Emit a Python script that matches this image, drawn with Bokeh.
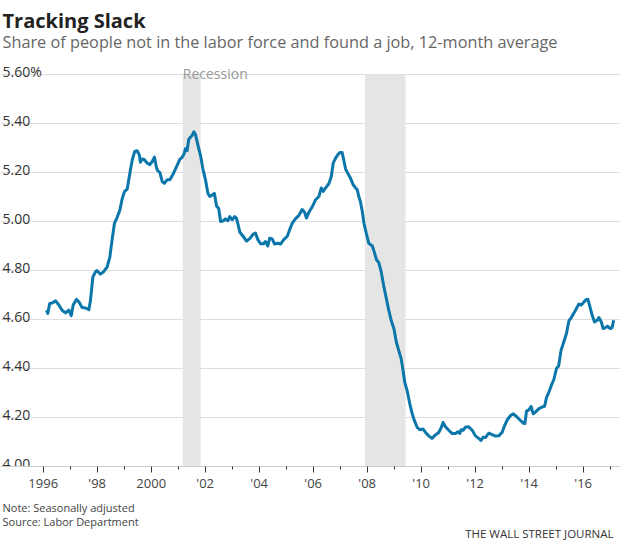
from bokeh.plotting import figure
from bokeh.layouts import column
from bokeh.models import Range1d, FixedTicker, Label
from bokeh.embed import file_html
from bokeh.resources import INLINE
from bokeh.core.properties import value

# ---------------- data ----------------
years = [
    1996.12, 1996.17, 1996.24, 1996.33, 1996.46, 1996.58, 1996.70, 1996.83, 1996.95,
    1997.04, 1997.11, 1997.23, 1997.32, 1997.44, 1997.57, 1997.69, 1997.75, 1997.84, 1997.94, 1997.99,
    1998.12, 1998.24, 1998.37, 1998.47, 1998.55, 1998.64, 1998.74, 1998.84, 1998.93,
    1999.01, 1999.11, 1999.21, 1999.30, 1999.39, 1999.48, 1999.56, 1999.60, 1999.67, 1999.75, 1999.85, 1999.95,
    2000.04, 2000.12, 2000.20, 2000.24, 2000.32, 2000.41, 2000.49, 2000.59, 2000.69, 2000.81, 2000.94,
    2001.06, 2001.15, 2001.21, 2001.27, 2001.33, 2001.39, 2001.46, 2001.52, 2001.58, 2001.64, 2001.73, 2001.83, 2001.91,
    2002.01, 2002.10, 2002.17, 2002.26, 2002.34, 2002.42, 2002.50, 2002.57, 2002.67, 2002.75, 2002.84, 2002.91,
    2003.00, 2003.09, 2003.16, 2003.22, 2003.28, 2003.41, 2003.53, 2003.66, 2003.78, 2003.86, 2003.95,
    2004.05, 2004.16, 2004.23, 2004.32, 2004.39, 2004.48, 2004.57, 2004.69, 2004.79, 2004.91,
    2005.04, 2005.13, 2005.22, 2005.34, 2005.47, 2005.59, 2005.68, 2005.75, 2005.84, 2005.96,
    2006.09, 2006.21, 2006.30, 2006.37, 2006.46, 2006.58, 2006.67, 2006.74, 2006.83, 2006.91, 2006.99,
    2007.07, 2007.13, 2007.20, 2007.28, 2007.38, 2007.48, 2007.57, 2007.63, 2007.69, 2007.75, 2007.82, 2007.88, 2007.98,
    2008.06, 2008.19, 2008.27, 2008.34, 2008.43, 2008.52, 2008.61, 2008.71, 2008.80, 2008.89, 2008.99,
    2009.08, 2009.17, 2009.26, 2009.33, 2009.39, 2009.48, 2009.58, 2009.67, 2009.75, 2009.85, 2009.95,
    2010.07, 2010.16, 2010.27, 2010.40, 2010.52, 2010.65, 2010.74, 2010.81, 2010.90,
    2011.02, 2011.14, 2011.27, 2011.36, 2011.43, 2011.48, 2011.56, 2011.63, 2011.76, 2011.89,
    2012.01, 2012.13, 2012.21, 2012.30, 2012.38, 2012.50, 2012.63, 2012.75, 2012.87,
    2013.00, 2013.09, 2013.19, 2013.31, 2013.41, 2013.53, 2013.65, 2013.78, 2013.84, 2013.90, 2013.99,
    2014.07, 2014.15, 2014.23, 2014.36, 2014.48, 2014.57, 2014.64, 2014.73, 2014.82, 2014.91,
    2015.01, 2015.09, 2015.18, 2015.28, 2015.38, 2015.47, 2015.56, 2015.65, 2015.75, 2015.84, 2015.93,
    2016.03, 2016.12, 2016.17, 2016.25, 2016.33, 2016.42, 2016.52, 2016.58, 2016.67, 2016.74, 2016.83, 2016.90,
    2017.00, 2017.07, 2017.13,
]
share_pct = [
    4.638, 4.625, 4.665, 4.667, 4.676, 4.659, 4.638, 4.627, 4.638,
    4.616, 4.659, 4.682, 4.672, 4.649, 4.647, 4.640, 4.677, 4.774, 4.795, 4.800,
    4.785, 4.795, 4.815, 4.856, 4.924, 4.993, 5.017, 5.047, 5.095,
    5.122, 5.132, 5.197, 5.252, 5.286, 5.289, 5.272, 5.242, 5.255, 5.252, 5.238, 5.232,
    5.245, 5.263, 5.218, 5.208, 5.200, 5.163, 5.156, 5.170, 5.170, 5.193, 5.224,
    5.254, 5.263, 5.274, 5.297, 5.289, 5.335, 5.345, 5.352, 5.366, 5.355, 5.312, 5.268, 5.217,
    5.170, 5.115, 5.102, 5.108, 5.115, 5.063, 5.053, 5.000, 5.003, 5.011, 5.003, 5.020,
    5.007, 5.020, 5.013, 4.986, 4.957, 4.939, 4.920, 4.931, 4.949, 4.953, 4.926,
    4.909, 4.909, 4.918, 4.900, 4.932, 4.929, 4.908, 4.911, 4.908, 4.926,
    4.940, 4.967, 4.992, 5.011, 5.025, 5.049, 5.038, 5.014, 5.038, 5.059,
    5.089, 5.102, 5.137, 5.123, 5.137, 5.154, 5.184, 5.238, 5.259, 5.272, 5.282,
    5.282, 5.252, 5.214, 5.197, 5.177, 5.150, 5.137, 5.130, 5.102, 5.081, 5.040, 4.993, 4.945,
    4.911, 4.900, 4.873, 4.845, 4.832, 4.794, 4.739, 4.685, 4.637, 4.596, 4.562,
    4.507, 4.473, 4.439, 4.391, 4.344, 4.309, 4.255, 4.214, 4.187, 4.160, 4.150,
    4.153, 4.139, 4.126, 4.115, 4.128, 4.139, 4.158, 4.180, 4.162,
    4.148, 4.135, 4.135, 4.142, 4.135, 4.150, 4.148, 4.160, 4.162, 4.148,
    4.125, 4.115, 4.106, 4.120, 4.118, 4.136, 4.130, 4.124, 4.125,
    4.140, 4.167, 4.191, 4.208, 4.215, 4.204, 4.191, 4.177, 4.175, 4.226, 4.231,
    4.245, 4.215, 4.222, 4.236, 4.243, 4.246, 4.281, 4.304, 4.331, 4.354,
    4.400, 4.410, 4.474, 4.508, 4.543, 4.594, 4.608, 4.625, 4.645, 4.663, 4.659,
    4.672, 4.682, 4.683, 4.652, 4.618, 4.590, 4.597, 4.608, 4.590, 4.563, 4.567, 4.573,
    4.563, 4.567, 4.597,
]

recession_start = [2001.17, 2007.92]
recession_end = [2001.83, 2009.42]

y_ticks = [4.0, 4.2, 4.4, 4.6, 4.8, 5.0, 5.2, 5.4, 5.6]
y_tick_labels = ["4.00", "4.20", "4.40", "4.60", "4.80", "5.00", "5.20", "5.40", "5.60%"]

x_major_years = [1996, 1998, 2000, 2002, 2004, 2006, 2008, 2010, 2012, 2014, 2016]
x_major_labels = ["1996", "'98", "2000", "'02", "'04", "'06", "'08", "'10", "'12", "'14", "'16"]
x_minor_years = [1997, 1999, 2001, 2003, 2005, 2007, 2009, 2011, 2013, 2015, 2017]

title_text = "Tracking Slack"
subtitle_text = "Share of people not in the labor force and found a job, 12-month average"
recession_text = "Recession"
footer_lines = ["Note: Seasonally adjusted", "Source: Labor Department"]
credit_text = "THE WALL STREET JOURNAL"

# ---------------- layout ----------------
FONT = "Open Sans"
W = 620
MAIN_H = 494          # frame from top of page down to the x axis
AXIS_H = 28           # room under the frame for ticks + tick labels
FOOT_H = 540 - MAIN_H
FRAME_H = MAIN_H - AXIS_H
PPX = 27.0            # pixels per year
PPY = 245.0           # pixels per percentage point
X0 = 1996 - 42.7 / PPX
X1 = X0 + W / PPX
Y0 = 4.0
Y1 = Y0 + FRAME_H / PPY


def data_x(px):
    return X0 + px / PPX


def data_y(py):
    return Y0 + (FRAME_H - py) / PPY


p = figure(width=W, height=MAIN_H, title=None,
           x_range=Range1d(X0, X1), y_range=Range1d(Y0, Y1),
           y_axis_location=None,
           output_backend="svg", toolbar_location=None,
           min_border_left=0, min_border_right=0,
           min_border_top=0, min_border_bottom=AXIS_H)
p.outline_line_color = None
p.background_fill_color = "white"
p.border_fill_color = "white"

p.xgrid.visible = False
p.ygrid.ticker = FixedTicker(ticks=y_ticks)
p.ygrid.grid_line_color = "#dedede"
p.ygrid.grid_line_width = 1

xa = p.xaxis[0]
xa.ticker = FixedTicker(ticks=x_major_years, minor_ticks=x_minor_years)
xa.major_label_overrides = {y: l for y, l in zip(x_major_years, x_major_labels)}
xa.axis_line_color = "#cccccc"
xa.major_tick_line_color = "#333333"
xa.minor_tick_line_color = "#333333"
xa.major_tick_out = 6
xa.major_tick_in = 0
xa.minor_tick_out = 3
xa.minor_tick_in = 0
xa.major_label_standoff = 1
xa.major_label_text_font = FONT
xa.major_label_text_font_size = "13px"
xa.major_label_text_color = "#444444"

# recession shading
p.quad(left=recession_start, right=recession_end,
       bottom=[y_ticks[0]] * len(recession_start), top=[y_ticks[-1]] * len(recession_start),
       fill_color="#e5e5e5", line_color=None)

# series
p.line(years, share_pct, line_color="#0a76aa", line_width=3, line_join="round")

# y tick labels (inside plot, above gridlines)
p.text(x=[X0] * len(y_ticks), y=y_ticks, text=y_tick_labels,
       text_font=value(FONT), text_font_size="14px", text_color="#333333",
       text_align="left", text_baseline="alphabetic", x_offset=2, y_offset=-3)

# labels inside the frame
p.add_layout(Label(x=recession_start[0], y=data_y(73), text=recession_text,
                   text_font=FONT, text_font_size="14px", text_color="#999999",
                   text_align="left", text_baseline="alphabetic"))
p.add_layout(Label(x=data_x(2), y=data_y(20), text=title_text,
                   text_font=FONT, text_font_size="20px", text_font_style="bold",
                   text_color="#222222", text_align="left", text_baseline="alphabetic"))
p.add_layout(Label(x=data_x(2), y=data_y(41), text=subtitle_text,
                   text_font=FONT, text_font_size="16.3px", text_color="#666666",
                   text_align="left", text_baseline="alphabetic"))

# footer strip (pixel coordinates, y downward)
f = figure(width=W, height=FOOT_H, title=None,
           x_range=Range1d(0, W), y_range=Range1d(FOOT_H, 0),
           x_axis_location=None, y_axis_location=None,
           output_backend="svg", toolbar_location=None, min_border=0)
f.outline_line_color = None
f.xgrid.visible = False
f.ygrid.visible = False
f.background_fill_color = "white"
f.border_fill_color = "white"
f.text(x=[2, 2], y=[507 - MAIN_H, 521 - MAIN_H], text=footer_lines,
       text_font=value(FONT), text_font_size="11px", text_color="#444444",
       text_align="left", text_baseline="alphabetic")
f.text(x=[613], y=[533 - MAIN_H], text=[credit_text],
       text_font=value(FONT), text_font_size="11.5px", text_color="#333333",
       text_align="right", text_baseline="alphabetic")

layout = column(p, f, spacing=0)
open("out.html", "w").write(file_html(layout, INLINE))
